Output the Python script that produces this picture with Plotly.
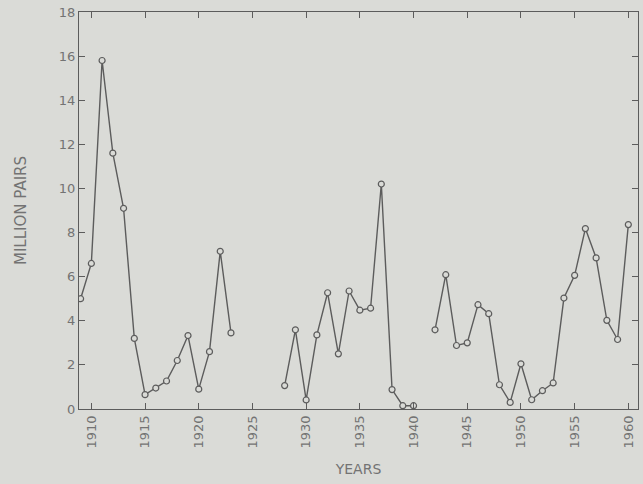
import plotly.graph_objects as go

years = list(range(1909, 1961))
values = [5.0, 6.6, 15.8, 11.6, 9.1, 3.2, 0.65, 0.95, 1.27, 2.2, 3.33, 0.9, 2.6, 7.15, 3.45,
          None, None, None, None,
          1.06, 3.59, 0.41, 3.36, 5.27, 2.5, 5.35, 4.48, 4.57, 10.2, 0.88, 0.15, 0.15,
          None,
          3.59, 6.09, 2.88, 3.0, 4.73, 4.32, 1.1, 0.3, 2.05, 0.42, 0.83, 1.18, 5.03, 6.06, 8.18,
          6.85, 4.02, 3.15, 8.36]

x_ticks = [1910, 1915, 1920, 1925, 1930, 1935, 1940, 1945, 1950, 1955, 1960]
y_ticks = [0, 2, 4, 6, 8, 10, 12, 14, 16, 18]

bg = "#dadbd7"
ink = "#5c5c5c"
txt = "#737373"

fig = go.Figure()
fig.add_trace(go.Scatter(
    x=years, y=values, mode="lines+markers", connectgaps=False,
    line=dict(color=ink, width=1.4),
    marker=dict(symbol="circle", size=6, color=bg, line=dict(color=ink, width=1.2)),
    showlegend=False,
))

fig.update_layout(
    width=643, height=484,
    paper_bgcolor=bg, plot_bgcolor=bg,
    margin=dict(l=79, r=5, t=12, b=75),
    font=dict(family="DejaVu Sans", color=txt, size=12),
)
fig.update_xaxes(
    range=[1908.85, 1960.9], tickvals=x_ticks, ticktext=[str(v) for v in x_ticks],
    tickangle=-90, ticks="inside", ticklen=6, tickcolor=ink, tickwidth=1,
    showline=True, linecolor=ink, linewidth=1.4, mirror="ticks",
    showgrid=False, zeroline=False,
    title=dict(text="YEARS", font=dict(size=14, color=txt), standoff=16),
    tickfont=dict(size=13, color=txt),
)
fig.update_yaxes(
    range=[0, 18], tickvals=y_ticks, ticktext=[str(v) for v in y_ticks],
    ticks="inside", ticklen=6, tickcolor=ink, tickwidth=1,
    showline=True, linecolor=ink, linewidth=1.4, mirror="ticks",
    showgrid=False, zeroline=False,
    title=dict(text="MILLION PAIRS", font=dict(size=15, color=txt), standoff=28),
    tickfont=dict(size=13, color=txt),
)

fig.write_html(
    "out.html",
    config={"displayModeBar": False},
    post_script="document.body.style.margin='0';document.body.style.background='" + bg + "';",
)
